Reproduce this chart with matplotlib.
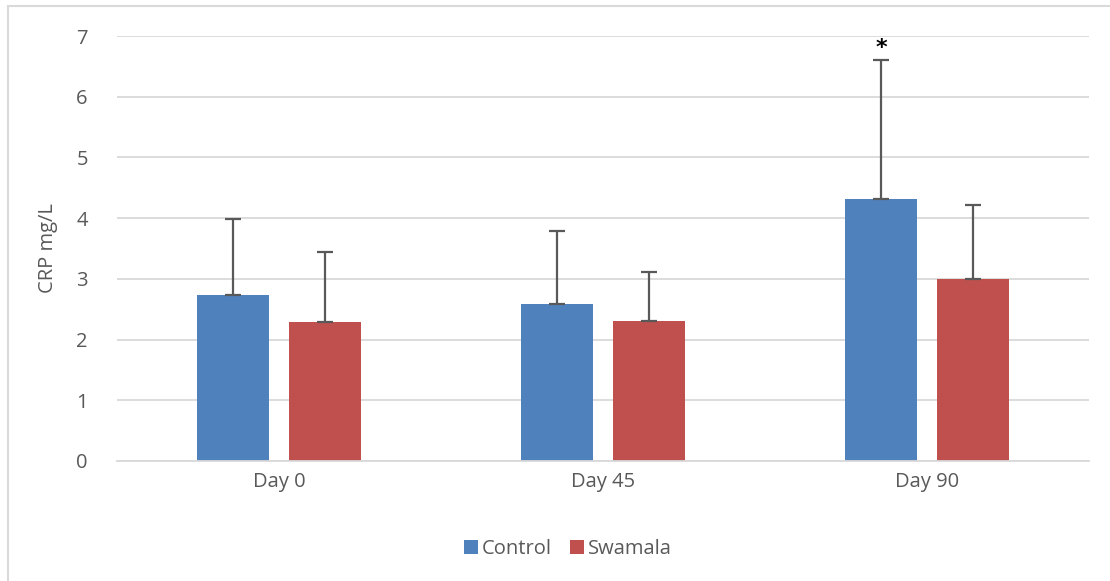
import numpy as np
import matplotlib.pyplot as plt
from matplotlib.patches import Rectangle

# data
days = ["Day 0", "Day 45", "Day 90"]
control = [2.74, 2.59, 4.32]
control_sd = [1.25, 1.20, 2.29]
swamala = [2.29, 2.31, 2.99]
swamala_sd = [1.15, 0.80, 1.22]

plt.rcParams['font.family'] = ['Open Sans', 'DejaVu Sans']

fig = plt.figure(figsize=(11.1, 5.81), dpi=100)
ax = fig.add_axes([117/1110, 1-461/581, 972/1110, 425/581])

x = np.arange(len(days))
w = 0.222
off = (w + 0.062) / 2
err_kw = dict(ecolor='#595959', elinewidth=1.6, capsize=6, capthick=1.6)

ax.bar(x - off, control, w, color='#4f81bd', label='Control', zorder=2,
       yerr=[np.zeros(3), control_sd], error_kw=err_kw)
ax.bar(x + off, swamala, w, color='#c0504d', label='Swamala', zorder=2,
       yerr=[np.zeros(3), swamala_sd], error_kw=err_kw)

# significance mark
ax.text(x[2] - off, control[2] + control_sd[2] + 0.03, '*', ha='center', va='bottom',
        fontsize=16, fontweight='bold', color='black', family='DejaVu Sans')

ax.set_xlim(-0.5, 2.5)
ax.set_ylim(0, 7)
ax.set_yticks(range(8))
ax.set_xticks(x)
ax.set_xticklabels(days)
ax.yaxis.grid(True, color='#d9d9d9', lw=1.3, zorder=0)
ax.set_axisbelow(True)
for s in ['top', 'right', 'left']:
    ax.spines[s].set_visible(False)
ax.spines['bottom'].set_color('#d9d9d9')
ax.spines['bottom'].set_linewidth(1.3)
ax.tick_params(axis='both', length=0, colors='#595959', labelsize=14.5)
ax.tick_params(axis='y', pad=21)
ax.tick_params(axis='x', pad=8)
ax.set_ylabel('CRP mg/L', fontsize=14.5, color='#595959', labelpad=13)

ax.legend(loc='upper center', bbox_to_anchor=(0.464, -0.14), ncol=2, frameon=False,
          fontsize=14.5, handlelength=0.7, handleheight=0.7, handletextpad=0.2,
          columnspacing=0.9, labelcolor='#595959')

# outer chart frame
fig.patches.append(Rectangle((8/1110, -0.01), 1.1, 1.01 - 6/581, transform=fig.transFigure,
                             fill=False, edgecolor='#d9d9d9', lw=1.5))

fig.savefig('out.png', dpi=100)
